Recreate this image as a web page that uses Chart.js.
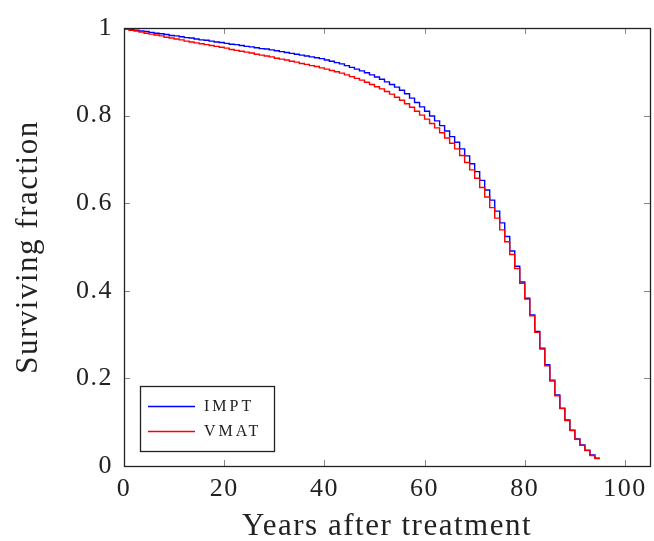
<!DOCTYPE html>
<html>
<head>
<meta charset="utf-8">
<script src="https://cdn.jsdelivr.net/npm/chart.js@4/dist/chart.umd.min.js"></script>
<style>
  html, body { margin: 0; padding: 0; background: #fff; }
  #wrap { width: 654px; height: 541px; }
</style>
</head>
<body>
<div id="wrap"><canvas id="myChart" width="654" height="541"></canvas></div>
<script>
// years after treatment (yearly steps)
var years = [];
for (var k = 0; k <= 95; k++) years.push(k);

// surviving fraction
var impt = [
  1.000, 0.998, 0.997, 0.995, 0.993, 0.992, 0.990, 0.988, 0.987, 0.985,
  0.983, 0.982, 0.980, 0.978, 0.977, 0.975, 0.973, 0.972, 0.970, 0.968,
  0.967, 0.965, 0.963, 0.962, 0.960, 0.958, 0.957, 0.955, 0.953, 0.952,
  0.950, 0.948, 0.946, 0.944, 0.942, 0.940, 0.938, 0.936, 0.934, 0.932,
  0.930, 0.927, 0.924, 0.921, 0.918, 0.914, 0.910, 0.906, 0.902, 0.898,
  0.893, 0.888, 0.883, 0.877, 0.871, 0.865, 0.858, 0.850, 0.840, 0.830,
  0.820, 0.810, 0.799, 0.788, 0.777, 0.765, 0.752, 0.739, 0.724, 0.708,
  0.690, 0.672, 0.652, 0.630, 0.607, 0.582, 0.555, 0.524, 0.491, 0.456,
  0.420, 0.383, 0.345, 0.307, 0.269, 0.231, 0.196, 0.162, 0.132, 0.105,
  0.082, 0.062, 0.048, 0.036, 0.025, 0.018
];
var vmat = [
  1.000, 0.997, 0.995, 0.993, 0.991, 0.988, 0.986, 0.984, 0.982, 0.979,
  0.977, 0.975, 0.973, 0.970, 0.968, 0.966, 0.964, 0.962, 0.960, 0.958,
  0.956, 0.954, 0.951, 0.949, 0.947, 0.945, 0.943, 0.940, 0.938, 0.936,
  0.934, 0.931, 0.929, 0.927, 0.924, 0.922, 0.919, 0.917, 0.914, 0.912,
  0.909, 0.906, 0.903, 0.900, 0.897, 0.893, 0.889, 0.885, 0.881, 0.876,
  0.871, 0.866, 0.861, 0.855, 0.849, 0.842, 0.835, 0.827, 0.819, 0.810,
  0.801, 0.792, 0.782, 0.772, 0.761, 0.749, 0.737, 0.724, 0.709, 0.693,
  0.676, 0.657, 0.636, 0.614, 0.590, 0.566, 0.539, 0.512, 0.483, 0.451,
  0.417, 0.381, 0.343, 0.305, 0.267, 0.229, 0.194, 0.160, 0.131, 0.104,
  0.081, 0.061, 0.047, 0.035, 0.024, 0.017
];

var xTicks = [0, 20, 40, 60, 80, 100];
var yTicks = [0, 0.2, 0.4, 0.6, 0.8, 1];
var yTickLabels = ['0', '0.2', '0.4', '0.6', '0.8', '1'];

function pts(vals) {
  return years.map(function (y, i) { return { x: y, y: vals[i] }; });
}

var serif = '"Liberation Serif", "DejaVu Serif", serif';

// a little wider text, closer to the LaTeX look
var spacingPlugin = {
  id: 'spacing',
  beforeDraw: function (chart) { chart.ctx.letterSpacing = '1.5px'; }
};

// frame, inward ticks on all four sides, legend box
var framePlugin = {
  id: 'frame',
  afterDraw: function (chart) {
    var c = chart.ctx, a = chart.chartArea;
    var xs = chart.scales.x, ys = chart.scales.y;
    c.save();
    c.strokeStyle = '#888';
    c.lineWidth = 1;
    xTicks.forEach(function (v) {
      var px = Math.round(xs.getPixelForValue(v)) + 0.5;
      c.beginPath();
      c.moveTo(px, a.bottom); c.lineTo(px, a.bottom - 6);
      c.moveTo(px, a.top); c.lineTo(px, a.top + 6);
      c.stroke();
    });
    yTicks.forEach(function (v) {
      var py = Math.round(ys.getPixelForValue(v)) + 0.5;
      c.beginPath();
      c.moveTo(a.left, py); c.lineTo(a.left + 6, py);
      c.moveTo(a.right, py); c.lineTo(a.right - 6, py);
      c.stroke();
    });
    c.strokeStyle = '#222';
    c.lineWidth = 1.3;
    c.strokeRect(Math.round(a.left) + 0.5, Math.round(a.top) + 0.5,
      Math.round(a.right - a.left), Math.round(a.bottom - a.top));

    // legend in lower left
    var bx = a.left + 16, by = a.bottom - 80, bw = 134, bh = 65;
    c.fillStyle = '#fff';
    c.fillRect(bx, by, bw, bh);
    c.strokeStyle = '#222';
    c.lineWidth = 1.3;
    c.strokeRect(bx + 0.5, by + 0.5, bw, bh);
    c.font = '16px ' + serif;
    c.letterSpacing = '3px';
    c.textBaseline = 'middle';
    chart.data.datasets.forEach(function (ds, i) {
      var ly = by + 20 + i * 25;
      c.strokeStyle = ds.borderColor;
      c.lineWidth = 1.4;
      c.beginPath();
      c.moveTo(bx + 8, ly + 0.5); c.lineTo(bx + 55, ly + 0.5);
      c.stroke();
      c.fillStyle = '#222';
      c.fillText(ds.label, bx + 64, ly + 1);
    });
    c.restore();
  }
};

new Chart(document.getElementById('myChart'), {
  type: 'line',
  data: {
    datasets: [
      {
        label: 'IMPT',
        data: pts(impt),
        borderColor: '#0000ff',
        borderWidth: 1.4,
        stepped: 'after',
        pointRadius: 0,
        fill: false,
        order: 2
      },
      {
        label: 'VMAT',
        data: pts(vmat),
        borderColor: '#ff0000',
        borderWidth: 1.4,
        stepped: 'after',
        pointRadius: 0,
        fill: false,
        order: 1
      }
    ]
  },
  options: {
    responsive: false,
    animation: false,
    layout: { padding: { left: 0, top: 28, right: 4, bottom: 0 } },
    plugins: {
      legend: { display: false },
      tooltip: { enabled: false }
    },
    scales: {
      x: {
        type: 'linear',
        min: 0,
        max: 105,
        afterBuildTicks: function (s) { s.ticks = xTicks.map(function (v) { return { value: v }; }); },
        afterFit: function (s) { s.height = 75; },
        grid: { display: false, drawTicks: false },
        border: { display: false },
        ticks: {
          color: '#222',
          padding: 8,
          maxRotation: 0,
          font: { family: serif, size: 26 }
        },
        title: {
          display: true,
          text: 'Years after treatment',
          color: '#222',
          font: { family: serif, size: 31, lineHeight: 0.9 },
          padding: { top: 0, bottom: 0 }
        }
      },
      y: {
        min: 0,
        max: 1,
        afterBuildTicks: function (s) { s.ticks = yTicks.map(function (v) { return { value: v }; }); },
        afterFit: function (s) { s.width = 124; },
        grid: { display: false, drawTicks: false },
        border: { display: false },
        ticks: {
          color: '#222',
          padding: 11,
          font: { family: serif, size: 26 },
          callback: function (v) {
            var i = yTicks.indexOf(v);
            return i >= 0 ? yTickLabels[i] : '';
          }
        },
        title: {
          display: true,
          text: 'Surviving fraction',
          color: '#222',
          font: { family: serif, size: 31, lineHeight: 0.9 },
          padding: { top: 15, bottom: 0 }
        }
      }
    }
  },
  plugins: [spacingPlugin, framePlugin]
});
</script>
</body>
</html>
